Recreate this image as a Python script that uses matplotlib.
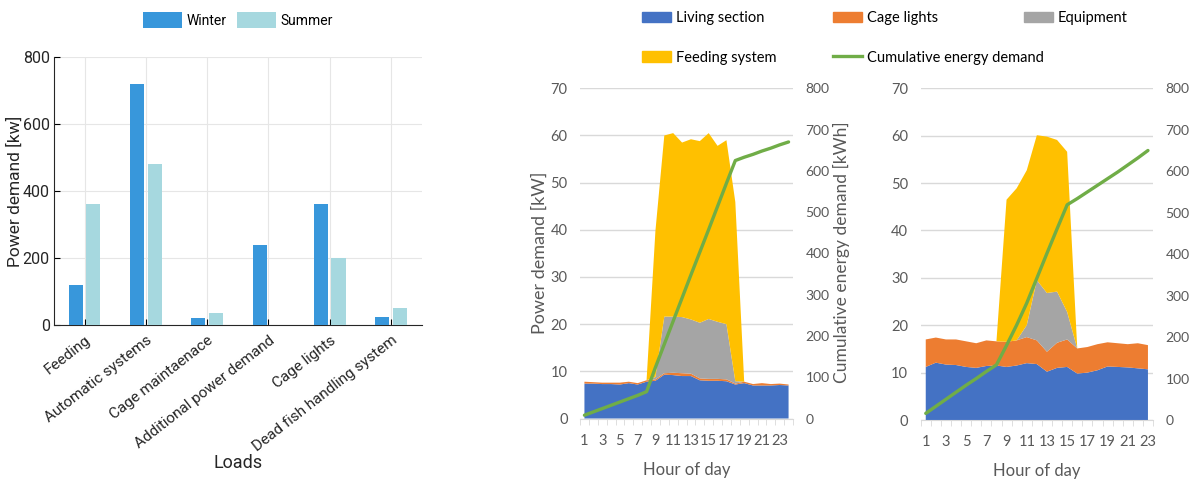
import numpy as np
import matplotlib.pyplot as plt
from matplotlib.patches import Patch
from matplotlib.lines import Line2D

# Load breakdown (bar chart)
loads = ['Feeding', 'Automatic systems', 'Cage maintaenace',
         'Additional power demand', 'Cage lights', 'Dead fish handling system']
winter = [120, 720, 20, 240, 360, 25]
summer = [360, 480, 35, 0, 200, 50]

# Hourly profile, first case (24 h)
hours_a = list(range(1, 25))
living_a = [7.4, 7.4, 7.3, 7.3, 7.2, 7.5, 7.2, 7.8, 8.0, 9.3, 9.2, 9.0,
            9.0, 8.1, 8.0, 8.0, 7.9, 7.2, 7.5, 7.0, 7.0, 7.0, 7.1, 7.0]
lights_a = [0.4, 0.3, 0.3, 0.3, 0.4, 0.3, 0.3, 0.3, 0.3, 0.3, 0.5, 0.6,
            0.5, 0.4, 0.4, 0.4, 0.4, 0.2, 0.3, 0.3, 0.5, 0.3, 0.3, 0.2]
equip_a = [0, 0, 0, 0, 0, 0, 0, 0, 0.5, 12.0, 11.9, 11.9,
           11.5, 11.8, 12.7, 12.1, 11.7, 0.5, 0, 0, 0, 0, 0, 0]
feed_a = [0, 0, 0, 0, 0, 0, 0, 0, 31.0, 38.4, 38.9, 37.0,
          38.2, 38.5, 39.4, 37.3, 39.0, 38.0, 0, 0, 0, 0, 0, 0]
cum_a = [8, 16, 24, 32, 40, 48, 56, 65, 124, 180, 236, 292,
         348, 403, 458, 514, 570, 625, 633, 640, 648, 655, 663, 670]

# Hourly profile, second case (23 h)
hours_b = list(range(1, 24))
living_b = [11.2, 12.1, 11.7, 11.6, 11.2, 11.0, 11.4, 11.5, 11.2, 11.5, 12.0, 11.8,
            10.2, 11.0, 11.2, 9.8, 10.0, 10.5, 11.3, 11.2, 11.1, 10.9, 10.7]
lights_b = [5.8, 5.3, 5.3, 5.4, 5.4, 5.2, 5.4, 5.1, 5.3, 5.3, 5.5, 5.0,
            4.2, 5.3, 5.8, 5.3, 5.4, 5.5, 5.1, 5.0, 4.9, 5.3, 5.1]
equip_b = [0, 0, 0, 0, 0, 0, 0, 0, 0, 0, 2.5, 12.7,
           12.4, 10.8, 5.8, 0, 0, 0, 0, 0, 0, 0, 0]
feed_b = [0, 0, 0, 0, 0, 0, 0, 0, 30.0, 32.1, 32.7, 30.6,
          33.0, 32.0, 33.8, 0, 0, 0, 0, 0, 0, 0, 0]
cum_b = [16, 33, 50, 67, 84, 100, 117, 133, 180, 229, 282, 342,
         402, 461, 519, 534, 550, 566, 582, 598, 615, 632, 650]

c_win = '#3897DB'
c_sum = '#A6D8DF'
c_liv = '#4472C4'
c_lig = '#ED7D31'
c_eq = '#A5A5A5'
c_fd = '#FFC000'
c_cum = '#70AD47'
txt = '#595959'
dark = '#262626'
xl_font = ['Lato', 'Open Sans', 'DejaVu Sans']
ml_font = ['Roboto', 'DejaVu Sans']

fig = plt.figure(figsize=(11.91, 4.79), dpi=100)
W, H = 1191, 479

# ---- bar chart ----
ax = fig.add_axes([0.0453, 0.3215, 0.3087, 0.5595])
x = np.arange(1, len(loads) + 1)
ax.bar(x - 0.143, winter, 0.23, color=c_win, label='Winter', zorder=3)
ax.bar(x + 0.143, summer, 0.23, color=c_sum, label='Summer', zorder=3)
ax.set_xlim(0.5, 6.5)
ax.set_ylim(0, 800)
ax.set_yticks([0, 200, 400, 600, 800])
ax.set_xticks(x)
ax.set_xticklabels(loads, rotation=38, ha='right', rotation_mode='anchor',
                   fontsize=11, color=dark, family=ml_font)
ax.set_yticklabels(['0', '200', '400', '600', '800'], fontsize=11.5, color=dark,
                   family=ml_font)
ax.tick_params(axis='y', direction='in', length=4, pad=3)
ax.tick_params(axis='x', direction='in', length=4, pad=6)
ax.grid(True, color='#E6E6E6', lw=0.8, zorder=0)
for s in ['top', 'right']:
    ax.spines[s].set_visible(False)
for s in ['left', 'bottom']:
    ax.spines[s].set_color(dark)
    ax.spines[s].set_linewidth(0.8)
fig.text(15 / W, 1 - 191 / H, 'Power demand [kw]', rotation=90, ha='center', va='center',
         fontsize=12.5, color=dark, family=ml_font)
fig.text(238 / W, 1 - 463 / H, 'Loads', ha='center', va='center',
         fontsize=13, color=dark, family=ml_font)
fig.legend(loc='center', bbox_to_anchor=(238 / W, 1 - 20 / H), ncol=2, frameon=False,
           prop={'family': ml_font, 'size': 10}, handlelength=2.8, handleheight=1.3,
           handletextpad=0.3, columnspacing=0.8)


# ---- hourly stacked area charts ----
def area_panel(rect, hrs, liv, lig, eq, fd, cum, xmax):
    a = fig.add_axes(rect)
    a.stackplot(hrs, liv, lig, eq, fd, colors=[c_liv, c_lig, c_eq, c_fd], lw=0, zorder=2)
    a.set_xlim(0.5, xmax + 0.5)
    a.set_ylim(0, 70)
    a.set_yticks(range(0, 71, 10))
    a.set_xticks(range(1, xmax + 1, 2))
    a.set_xticks(np.arange(0.5, xmax + 1, 1), minor=True)
    a.tick_params(axis='x', which='major', length=0, pad=11, labelsize=10.5)
    a.tick_params(axis='x', which='minor', length=4, color='#D9D9D9')
    a.tick_params(axis='y', length=0, pad=9, labelsize=10.5)
    a.tick_params(labelcolor=txt)
    a.grid(axis='y', color='#D9D9D9', lw=1, zorder=0)
    a.set_axisbelow(True)
    for s in ['top', 'right', 'left']:
        a.spines[s].set_visible(False)
    a.spines['bottom'].set_color('#D9D9D9')
    for lb in a.get_xticklabels() + a.get_yticklabels():
        lb.set_family(xl_font)
    b = a.twinx()
    b.plot(hrs, cum, color=c_cum, lw=2.4, solid_capstyle='round', zorder=4)
    b.set_ylim(0, 800)
    b.set_yticks(range(0, 801, 100))
    b.tick_params(axis='y', length=0, pad=9, labelsize=10, labelcolor=txt)
    for lb in b.get_yticklabels():
        lb.set_family(xl_font)
    for s in b.spines.values():
        s.set_visible(False)
    return a


area_panel([580 / W, 1 - 418.5 / H, 213 / W, 330.2 / H], hours_a, living_a, lights_a,
           equip_a, feed_a, cum_a, 24)
area_panel([920.7 / W, 1 - 420 / H, 232.3 / W, 331.7 / H], hours_b, living_b, lights_b,
           equip_b, feed_b, cum_b, 23)

lab = dict(family=xl_font, color=txt, ha='center', va='center')
fig.text(540 / W, 1 - 253 / H, 'Power demand [kW]', rotation=90, fontsize=13, **lab)
fig.text(841 / W, 1 - 252 / H, 'Cumulative energy demand [kWh]', rotation=90,
         fontsize=12.5, **lab)
fig.text(687 / W, 1 - 470 / H, 'Hour of day', fontsize=12, **lab)
fig.text(1037 / W, 1 - 471 / H, 'Hour of day', fontsize=12, **lab)

# legend laid out in three columns
columns = [
    (642, [Patch(color=c_liv, label='Living section'),
           Patch(color=c_fd, label='Feeding system')]),
    (833, [Patch(color=c_lig, label='Cage lights'),
           Line2D([], [], color=c_cum, lw=2.4, label='Cumulative energy demand')]),
    (1024, [Patch(color=c_eq, label='Equipment')]),
]
for xpos, hs in columns:
    fig.legend(handles=hs, loc='upper left', bbox_to_anchor=(xpos / W, 1 - 11 / H),
               frameon=False, prop={'family': xl_font, 'size': 10.5}, handlelength=2.0,
               handleheight=0.7, handletextpad=0.3, labelspacing=1.75,
               borderpad=0, borderaxespad=0)

fig.savefig('out.png', dpi=100)
